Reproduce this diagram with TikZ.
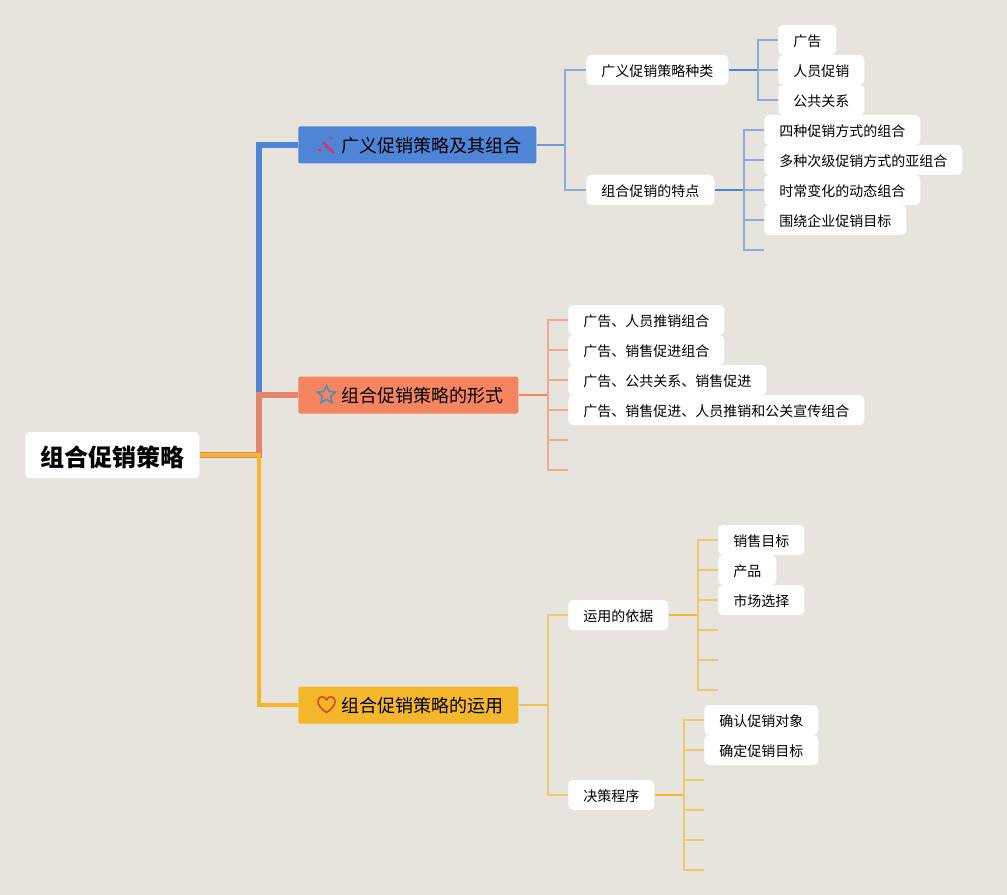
\documentclass[tikz,border=0pt]{standalone}
\usepackage{fontspec}
\setmainfont{Noto Sans CJK SC}
\usetikzlibrary{shapes.geometric,calc}
\definecolor{bgc}{HTML}{E6E4DC}
\definecolor{bluec}{HTML}{4E85D6}
\definecolor{coralc}{HTML}{F58460}
\definecolor{yellowc}{HTML}{F4B62A}
\definecolor{wandc}{HTML}{D8306E}
\definecolor{starc}{HTML}{4A8FBE}
\definecolor{heartc}{HTML}{E04E1B}
\tikzset{
  rootbox/.style={anchor=west,fill=white,rounded corners=3pt,inner xsep=11.25pt,inner ysep=0pt,minimum height=34.5pt,text height=18.5pt,text depth=1.9pt,font=\fontsize{18}{20}\bfseries\selectfont},
  mainbox/.style={anchor=west,fill=#1,rounded corners=1.5pt,inner xsep=11.25pt,inner ysep=0pt,minimum height=27.75pt,text height=13pt,text depth=1.3pt,font=\fontsize{13.5}{16}\selectfont},
  subbox/.style={anchor=west,fill=white,rounded corners=3.5pt,inner xsep=11.25pt,inner ysep=0pt,minimum height=22.5pt,text height=10.4pt,text depth=1pt,font=\fontsize{10.5}{13}\selectfont},
  busline/.style={draw=#1!60!bgc,line width=1.1pt},
  stemline/.style={draw=#1,line width=1.5pt},
}
\newcommand{\iconpad}{\hspace*{21pt}}
\begin{document}
\begin{tikzpicture}[x=0.75pt,y=-0.75pt]
  \fill[bgc] (0,0) rectangle (1007,895);
  % root and main branches
  \node[rootbox] (root) at (25,455) {组合促销策略};
  \node[mainbox=bluec] (mA) at (298,145) {\iconpad 广义促销策略及其组合};
  \node[mainbox=coralc] (mB) at (298,395) {\iconpad 组合促销策略的形式};
  \node[mainbox=yellowc] (mC) at (298,705) {\iconpad 组合促销策略的运用};
  \coordinate (hub) at (259,455);
  \draw[bluec,line width=4.5pt] (root.east) -- (hub) |- (mA.west);
  \draw[coralc!90!bluec,line width=4.5pt] (root.east) -- (hub) |- (mB.west);
  \draw[yellowc,line width=2.6pt] (root.east) -- (hub) |- (mC.west);
  % icons
  \node[star,star points=5,star point ratio=2.1,draw=starc,line width=1.2pt,inner sep=0pt,minimum size=14pt] (icoB) at (326.5,395) {};
  \draw[heartc,line width=1.3pt,line join=round] (326.5,712.5)
    .. controls (320,708) and (318,704.5) .. (318,701.5)
    .. controls (318,696) and (324.5,695) .. (326.5,700)
    .. controls (328.5,695) and (335,696) .. (335,701.5)
    .. controls (335,704.5) and (333,708) .. (326.5,712.5);
  \draw[wandc,line width=1.7pt] (323,142) -- (334,153);
  \fill[wandc] (320,150) circle(1.8) (326,147) circle(1.5) (331,138) circle(1.5) (335,145) circle(.9);
  % blue part
  \node[subbox] (a1) at (586,70) {广义促销策略种类};
  \node[subbox] (a2) at (586,190) {组合促销的特点};
  \node[subbox] (a11) at (778,40) {广告};
  \node[subbox] (a12) at (778,70) {人员促销};
  \node[subbox] (a13) at (778,100) {公共关系};
  \node[subbox] (a21) at (764,130) {四种促销方式的组合};
  \node[subbox] (a22) at (764,160) {多种次级促销方式的亚组合};
  \node[subbox] (a23) at (764,190) {时常变化的动态组合};
  \node[subbox] (a24) at (764,220) {围绕企业促销目标};
  \coordinate (a25) at (764,250);
  \coordinate (busA) at (565,145);
  \coordinate (busAa) at (758,70);
  \coordinate (busAb) at (744,190);
  \draw[stemline=bluec!80!bgc] (mA.east) -- (busA);
  \foreach \c in {a1,a2} \draw[busline=bluec] (busA) |- (\c.west);
  \draw[stemline=bluec] (a1.east) -- (busAa);
  \foreach \c in {a11,a12,a13} \draw[busline=bluec] (busAa) |- (\c.west);
  \draw[stemline=bluec] (a2.east) -- (busAb);
  \foreach \c in {a21,a22,a23,a24} \draw[busline=bluec] (busAb) |- (\c.west);
  \draw[busline=bluec] (busAb) |- (a25);
  % coral part
  \node[subbox] (b1) at (568,320) {广告、人员推销组合};
  \node[subbox] (b2) at (568,350) {广告、销售促进组合};
  \node[subbox] (b3) at (568,380) {广告、公共关系、销售促进};
  \node[subbox] (b4) at (568,410) {广告、销售促进、人员推销和公关宣传组合};
  \coordinate (b5) at (568,440);
  \coordinate (b6) at (568,470);
  \coordinate (busB) at (548,395);
  \draw[stemline=coralc] (mB.east) -- (busB);
  \foreach \c in {b1,b2,b3,b4} \draw[busline=coralc] (busB) |- (\c.west);
  \foreach \c in {b5,b6} \draw[busline=coralc] (busB) |- (\c);
  % yellow part
  \node[subbox] (c1) at (568,615) {运用的依据};
  \node[subbox] (c2) at (568,795) {决策程序};
  \node[subbox] (c11) at (718,540) {销售目标};
  \node[subbox] (c12) at (718,570) {产品};
  \node[subbox] (c13) at (718,600) {市场选择};
  \node[subbox] (c21) at (704,720) {确认促销对象};
  \node[subbox] (c22) at (704,750) {确定促销目标};
  \coordinate (busC) at (548,705);
  \coordinate (busCa) at (698,615);
  \coordinate (busCb) at (684,795);
  \draw[stemline=yellowc!80!bgc] (mC.east) -- (busC);
  \foreach \c in {c1,c2} \draw[busline=yellowc] (busC) |- (\c.west);
  \draw[stemline=yellowc] (c1.east) -- (busCa);
  \foreach \c in {c11,c12,c13} \draw[busline=yellowc] (busCa) |- (\c.west);
  \foreach \y in {630,660,690} {
    \coordinate (cs\y) at (718,\y);
    \draw[busline=yellowc] (busCa) |- (cs\y);}
  \draw[stemline=yellowc] (c2.east) -- (busCb);
  \foreach \c in {c21,c22} \draw[busline=yellowc] (busCb) |- (\c.west);
  \foreach \y in {780,810,840,870} {
    \coordinate (cs\y) at (704,\y);
    \draw[busline=yellowc] (busCb) |- (cs\y);}
\end{tikzpicture}
\end{document}
